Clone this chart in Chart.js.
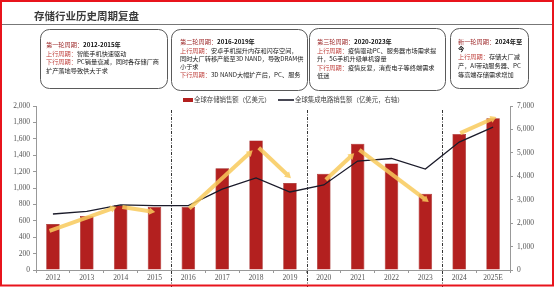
<!DOCTYPE html>
<html>
<head>
<meta charset="utf-8">
<script src="https://cdn.jsdelivr.net/npm/chart.js@4.4.1/dist/chart.umd.min.js"></script>
<style>
  html, body { margin: 0; padding: 0; background: #fff; }
  #wrap { position: relative; width: 555px; height: 287px; }
</style>
</head>
<body>
<div id="wrap"><canvas id="c" width="555" height="287"></canvas></div>
<script>
const years = ['2012', '2013', '2014', '2015', '2016', '2017', '2018', '2019', '2020', '2021', '2022', '2023', '2024', '2025E'];
const storageSales = [560, 660, 790, 770, 770, 1240, 1580, 1060, 1175, 1540, 1300, 930, 1660, 1850];
const icSales = [2390, 2500, 2780, 2750, 2750, 3450, 3930, 3330, 3630, 4650, 4760, 4310, 5460, 6100];
const leftTicks = { max: 2000, step: 200 };
const rightTicks = { max: 7000, step: 1000 };
// trend arrows: [fromIndex, fromValue, toIndex, toValue] on the left axis
const trendArrows = [
  [-0.1, 476, 1.88, 768],
  [2.05, 768, 3.02, 707],
  [4.03, 750, 5.9, 1460],
  [6.08, 1490, 7.03, 1120],
  [8.06, 1100, 8.9, 1425],
  [9.05, 1465, 11.1, 830],
  [12.03, 1670, 13.1, 1866]
];
// cycle boundaries, between these category indexes
const cycleBreaks = [3.5, 7.5, 11.5];

const CJK = '"Noto Sans CJK SC", "Noto Sans", sans-serif';
const DARKRED = '#9e2a2b';
const RED = '#c0433f';

const boxes = [
  { x: 40, y: 29, w: 127, h: 59, tx: 46, lines: [
    { y: 45, seg: [['第一轮周期：', DARKRED], ['2012-2015年', '#111', true]] },
    { y: 54, seg: [['上行周期：', RED], ['智能手机快速驱动', '#222']] },
    { y: 62, seg: [['下行周期：', RED], ['PC销量衰减，同时各存储厂商', '#222']] },
    { y: 71, seg: [['扩产落地导致供大于求', '#222']] }
  ]},
  { x: 171, y: 29, w: 136, h: 61, tx: 180, lines: [
    { y: 42, seg: [['第二轮周期：', DARKRED], ['2016-2019年', '#111', true]] },
    { y: 51, seg: [['上行周期：', RED], ['安卓手机提升内存和闪存空间，', '#222']] },
    { y: 59, seg: [['同时大厂转移产能至3D NAND，导致DRAM供', '#222']] },
    { y: 67, seg: [['小于求', '#222']] },
    { y: 75, seg: [['下行周期：', RED], ['3D NAND大幅扩产后，PC、服务', '#222']] }
  ]},
  { x: 309, y: 28, w: 136, h: 62, tx: 317, lines: [
    { y: 42, seg: [['第三轮周期：', DARKRED], ['2020-2023年', '#111', true]] },
    { y: 51, seg: [['上行周期：', RED], ['疫情驱动PC、服务器市场需求提', '#222']] },
    { y: 59, seg: [['升，5G手机升级单机容量', '#222']] },
    { y: 68, seg: [['下行周期：', RED], ['疫情反复，消费电子等终端需求', '#222']] },
    { y: 76, seg: [['低迷', '#222']] }
  ]},
  { x: 450, y: 28, w: 78, h: 60, tx: 458, lines: [
    { y: 42, seg: [['新一轮周期：', DARKRED], ['2024年至', '#111', true]] },
    { y: 49, seg: [['今', '#111', true]] },
    { y: 57, seg: [['上行周期：', RED], ['存储大厂减', '#222']] },
    { y: 66, seg: [['产，AI带动服务器、PC', '#222']] },
    { y: 75, seg: [['等高端存储需求增加', '#222']] }
  ]}
];

function roundRect(ctx, x, y, w, h, r) {
  ctx.beginPath();
  ctx.moveTo(x + r, y);
  ctx.arcTo(x + w, y, x + w, y + h, r);
  ctx.arcTo(x + w, y + h, x, y + h, r);
  ctx.arcTo(x, y + h, x, y, r);
  ctx.arcTo(x, y, x + w, y, r);
  ctx.closePath();
}

const decor = {
  id: 'decor',
  beforeDraw(chart) {
    const ctx = chart.ctx;
    ctx.save();
    ctx.fillStyle = '#fff';
    ctx.fillRect(0, 0, chart.width, chart.height);

    ctx.fillStyle = '#3c3c3c';
    ctx.font = 'bold 10.5px ' + CJK;
    ctx.textBaseline = 'middle';
    ctx.fillText('存储行业历史周期复盘', 34, 16);
    ctx.strokeStyle = '#777';
    ctx.lineWidth = 1;
    ctx.beginPath();
    ctx.moveTo(2, 24.5);
    ctx.lineTo(552, 24.5);
    ctx.stroke();

    boxes.forEach(b => {
      roundRect(ctx, b.x + 0.5, b.y + 0.5, b.w, b.h, 9);
      ctx.strokeStyle = '#5a5a5a';
      ctx.lineWidth = 1;
      ctx.stroke();
      b.lines.forEach(l => {
        let x = b.tx;
        l.seg.forEach(([t, c, bold]) => {
          ctx.font = (bold ? 'bold ' : '') + '6.2px ' + CJK;
          ctx.fillStyle = c;
          ctx.fillText(t, x, l.y);
          x += ctx.measureText(t).width;
        });
      });
    });

    // legend
    ctx.font = '6.4px ' + CJK;
    ctx.fillStyle = '#b3201f';
    ctx.fillRect(183, 98, 10, 4);
    ctx.fillStyle = '#444';
    ctx.fillText('全球存储销售额（亿美元）', 194, 100);
    ctx.strokeStyle = '#1b1b2a';
    ctx.lineWidth = 1.6;
    ctx.beginPath();
    ctx.moveTo(278, 100);
    ctx.lineTo(294, 100);
    ctx.stroke();
    ctx.fillText('全球集成电路销售额（亿美元，右轴）', 295, 100);
    ctx.restore();
  },
  beforeDatasetsDraw(chart) {
    const ctx = chart.ctx;
    const xs = chart.scales.x;
    ctx.save();
    ctx.strokeStyle = '#333';
    ctx.lineWidth = 1;
    ctx.setLineDash([3, 1.5, 1, 1.5]);
    cycleBreaks.forEach(v => {
      const px = Math.round(xs.getPixelForValue(v)) + 0.5;
      ctx.beginPath();
      ctx.moveTo(px, 110);
      ctx.lineTo(px, 287);
      ctx.stroke();
    });
    ctx.restore();
  },
  afterDatasetsDraw(chart) {
    const ctx = chart.ctx;
    const xs = chart.scales.x, ys = chart.scales.y;
    ctx.save();
    ctx.strokeStyle = 'rgba(248, 202, 92, 0.85)';
    ctx.fillStyle = 'rgba(248, 202, 92, 0.85)';
    ctx.lineWidth = 4;
    ctx.lineCap = 'butt';
    trendArrows.forEach(([i0, v0, i1, v1]) => {
      const x0 = xs.getPixelForValue(i0), y0 = ys.getPixelForValue(v0);
      const x1 = xs.getPixelForValue(i1), y1 = ys.getPixelForValue(v1);
      const a = Math.atan2(y1 - y0, x1 - x0);
      const head = 7;
      const bx = x1 - Math.cos(a) * head * 0.8, by = y1 - Math.sin(a) * head * 0.8;
      ctx.beginPath();
      ctx.moveTo(x0, y0);
      ctx.lineTo(bx, by);
      ctx.stroke();
      ctx.beginPath();
      ctx.moveTo(x1, y1);
      ctx.lineTo(x1 - Math.cos(a - 0.55) * head, y1 - Math.sin(a - 0.55) * head);
      ctx.lineTo(x1 - Math.cos(a + 0.55) * head, y1 - Math.sin(a + 0.55) * head);
      ctx.closePath();
      ctx.fill();
    });
    ctx.restore();
  },
  afterDraw(chart) {
    const ctx = chart.ctx;
    ctx.save();
    ctx.strokeStyle = '#e8141c';
    ctx.lineWidth = 2;
    ctx.strokeRect(1, 1, 552, 284.5);
    ctx.restore();
  }
};

const tickFont = { family: '"Liberation Serif", "DejaVu Serif", serif', size: 7.5 };

new Chart(document.getElementById('c'), {
  data: {
    labels: years,
    datasets: [
      {
        type: 'line', label: '全球集成电路销售额（亿美元，右轴）', data: icSales, yAxisID: 'y1',
        borderColor: '#1b1b2a', borderWidth: 1.3, pointRadius: 0, tension: 0, order: 0
      },
      {
        type: 'bar', label: '全球存储销售额（亿美元）', data: storageSales, yAxisID: 'y',
        backgroundColor: '#b3201f', borderColor: '#9a1a18', borderWidth: 0.6,
        categoryPercentage: 1, barPercentage: 0.4, order: 1
      }
    ]
  },
  options: {
    responsive: false,
    animation: false,
    layout: { padding: { top: 106, left: 0, right: 0, bottom: 0 } },
    plugins: { legend: { display: false }, tooltip: { enabled: false } },
    scales: {
      x: {
        offset: true,
        grid: { offset: true, drawOnChartArea: false, tickLength: 3, color: '#999' },
        border: { color: '#999' },
        ticks: { font: tickFont, color: '#555', padding: 1, maxRotation: 0 },
        afterFit: s => { s.height = 17; }
      },
      y: {
        position: 'left', min: 0, max: leftTicks.max,
        grid: { drawOnChartArea: false, tickLength: 3, color: '#999' },
        border: { color: '#999' },
        ticks: { stepSize: leftTicks.step, font: tickFont, color: '#555', padding: 3,
          callback: v => v.toLocaleString('en-US') },
        afterFit: s => { s.width = 36; }
      },
      y1: {
        position: 'right', min: 0, max: rightTicks.max,
        grid: { drawOnChartArea: false, tickLength: 3, color: '#999' },
        border: { color: '#999' },
        ticks: { stepSize: rightTicks.step, font: tickFont, color: '#555', padding: 4,
          callback: v => v.toLocaleString('en-US') },
        afterFit: s => { s.width = 45; }
      }
    }
  },
  plugins: [decor]
});
</script>
</body>
</html>
